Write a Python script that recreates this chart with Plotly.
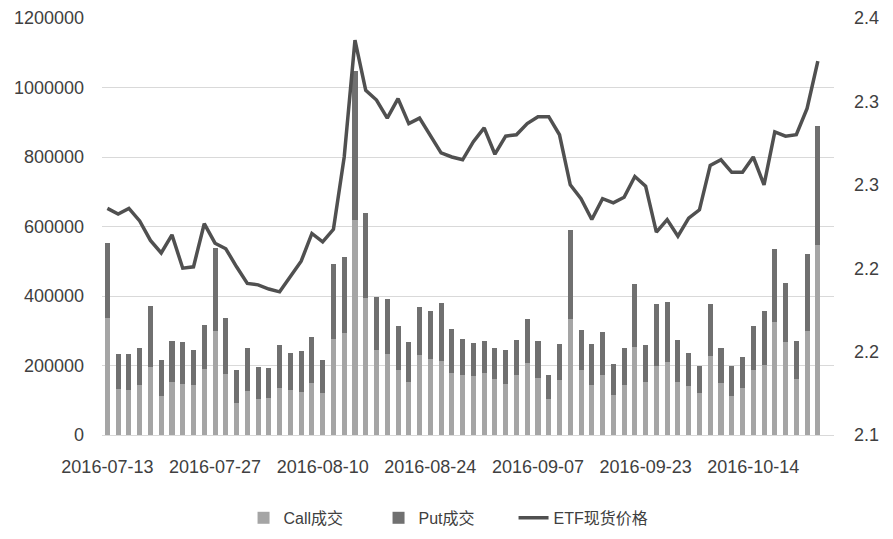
import datetime as dt
import plotly.graph_objects as go

# trading days 2016-07-13 .. 2016-10-24 (weekends and holidays excluded)
holidays = {"2016-09-15", "2016-09-16", "2016-10-03", "2016-10-04",
            "2016-10-05", "2016-10-06", "2016-10-07"}
dates = []
d = dt.date(2016, 7, 13)
while d <= dt.date(2016, 10, 24):
    s = d.isoformat()
    if d.weekday() < 5 and s not in holidays:
        dates.append(s)
    d += dt.timedelta(days=1)

call_vol = [338000, 133000, 130000, 144000, 197000, 112000, 153000, 147000, 144000, 190000,
            299000, 176000, 92000, 127000, 104000, 107000, 135000, 130000, 124000, 150000,
            121000, 276000, 294000, 619000, 395000, 246000, 233000, 188000, 153000, 230000,
            219000, 214000, 178000, 173000, 170000, 178000, 161000, 147000, 173000, 207000,
            164000, 104000, 158000, 334000, 187000, 144000, 173000, 115000, 144000, 253000,
            153000, 199000, 210000, 153000, 141000, 121000, 227000, 150000, 112000, 135000,
            187000, 201000, 325000, 268000, 161000, 299000, 547000]
total_vol = [552000, 233000, 233000, 250000, 371000, 216000, 270000, 268000, 245000, 317000,
             538000, 337000, 187000, 250000, 196000, 193000, 259000, 236000, 242000, 282000,
             216000, 492000, 512000, 1047000, 639000, 398000, 391000, 314000, 268000, 368000,
             357000, 380000, 305000, 276000, 265000, 270000, 250000, 245000, 273000, 334000,
             271000, 173000, 262000, 590000, 302000, 262000, 296000, 204000, 250000, 435000,
             259000, 377000, 383000, 273000, 236000, 199000, 377000, 250000, 199000, 225000,
             314000, 357000, 535000, 437000, 271000, 521000, 889000]
put_vol = [t - c for t, c in zip(total_vol, call_vol)]
etf_price = [2.263, 2.259, 2.263, 2.254, 2.240, 2.231, 2.244, 2.220, 2.221, 2.252,
             2.238, 2.234, 2.221, 2.209, 2.208, 2.205, 2.203, 2.214, 2.225, 2.245,
             2.239, 2.248, 2.300, 2.384, 2.348, 2.341, 2.328, 2.342, 2.324, 2.328,
             2.316, 2.303, 2.300, 2.298, 2.311, 2.321, 2.302, 2.315, 2.316, 2.324,
             2.329, 2.329, 2.316, 2.280, 2.270, 2.255, 2.270, 2.267, 2.271, 2.286,
             2.279, 2.246, 2.255, 2.243, 2.256, 2.262, 2.294, 2.298, 2.289, 2.289,
             2.300, 2.280, 2.318, 2.315, 2.316, 2.335, 2.369]

y_ticks = [0, 200000, 400000, 600000, 800000, 1000000, 1200000]
y2_ticks = [2.1, 2.16, 2.22, 2.28, 2.34, 2.4]
y2_labels = ["2.1", "2.2", "2.2", "2.3", "2.3", "2.4"]
x_ticks = dates[::10]

font_family = "Liberation Sans, Arial, Noto Sans CJK SC, sans-serif"
txt = "#404040"

fig = go.Figure()
fig.add_trace(go.Bar(x=dates, y=call_vol, name="Call成交", marker_color="#a5a5a5",
                     marker_line_width=0))
fig.add_trace(go.Bar(x=dates, y=put_vol, name="Put成交", marker_color="#707070",
                     marker_line_width=0))
fig.add_trace(go.Scatter(x=dates, y=etf_price, name="ETF现货价格", yaxis="y2",
                         mode="lines", line=dict(color="#505050", width=3.5)))

fig.update_layout(
    width=877, height=523,
    barmode="stack", bargap=0.53,
    plot_bgcolor="white", paper_bgcolor="white",
    margin=dict(l=94, r=51, t=10, b=96, autoexpand=False),
    font=dict(family=font_family, size=18, color=txt),
    xaxis=dict(type="category", range=[-0.5, 67.5], tickvals=x_ticks, ticktext=x_ticks,
               showgrid=False, showline=True, linecolor="#d9d9d9", linewidth=1,
               ticks="", ticklabelstandoff=15, automargin=False,
               tickfont=dict(size=18, color=txt), tickangle=0),
    yaxis=dict(range=[0, 1200000], tickvals=y_ticks, ticktext=[str(v) for v in y_ticks],
               showgrid=True, gridcolor="#d9d9d9", gridwidth=1, zeroline=False,
               ticks="", ticklabelstandoff=17, automargin=False,
               tickfont=dict(size=18, color=txt)),
    yaxis2=dict(range=[2.1, 2.4], tickvals=y2_ticks, ticktext=y2_labels,
                overlaying="y", side="right", showgrid=False, zeroline=False,
                ticks="", ticklabelstandoff=19, automargin=False,
                tickfont=dict(size=18, color=txt)),
    legend=dict(orientation="h", x=0.47, xanchor="center", y=-0.158, yanchor="top",
                font=dict(size=16, color=txt), traceorder="normal",
                entrywidth=90, entrywidthmode="pixels"),
)

fig.write_html("out.html")
